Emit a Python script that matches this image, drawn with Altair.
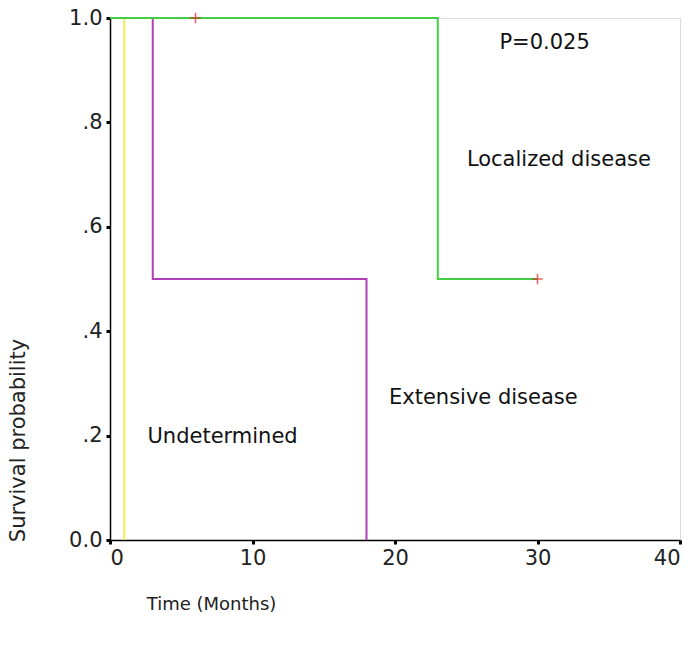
import altair as alt
import pandas as pd

# Kaplan-Meier step curves (time in months, survival probability)
groups = ["Undetermined", "Extensive disease", "Localized disease"]
und_t = [0, 1]
und_s = [1.0, 0.0]
ext_t = [0, 3, 18]
ext_s = [1.0, 0.5, 0.0]
loc_t = [0, 23, 30]
loc_s = [1.0, 0.5, 0.5]

# censored observations (Localized disease)
cens_t = [6, 30]
cens_s = [1.0, 0.5]

# annotation labels
label_text = ["P=0.025", "Localized disease", "Extensive disease", "Undetermined"]
label_t = [30.5, 31.5, 26.2, 7.9]
label_s = [0.952, 0.728, 0.272, 0.197]

colors = ["#eded55", "#b040b8", "#44cc44"]
FONT = "DejaVu Sans"

rows = []
for g, ts, ss in zip(groups, [und_t, ext_t, loc_t], [und_s, ext_s, loc_s]):
    for i, (t, s) in enumerate(zip(ts, ss)):
        rows.append({"group": g, "t": t, "s": s, "order": i})
curves = pd.DataFrame(rows)
cens = pd.DataFrame({"t": cens_t, "s": cens_s})
labels = pd.DataFrame({"text": label_text, "t": label_t, "s": label_s})

xscale = alt.Scale(domain=[0, 40], nice=False)
yscale = alt.Scale(domain=[0, 1], nice=False)

xaxis = alt.Axis(
    values=[0, 10, 20, 30, 40], title="Time (Months)", grid=False,
    tickSize=4, tickWidth=3, tickColor="black", domainColor="black", domainWidth=1.5,
    labelFontSize=21, labelColor="#222", labelPadding=3, labelFont=FONT,
    titleFontSize=18, titleFontWeight="normal", titleColor="#222", titleFont=FONT,
    titleX=101, titleY=55, titleAlign="center"
)

yaxis = alt.Axis(
    values=[0, 0.2, 0.4, 0.6, 0.8, 1.0], grid=False,
    labelExpr="datum.value == 0 ? '0.0' : datum.value == 1 ? '1.0' : replace(format(datum.value, '.1f'), '0.', '.')",
    title="Survival probability",
    tickSize=4, tickWidth=3, tickColor="black", domainColor="black", domainWidth=1.5,
    labelFontSize=21, labelColor="#222", labelPadding=4, labelFont=FONT,
    titleFontSize=21, titleFontWeight="normal", titleColor="#222", titleFont=FONT,
    titleX=-92, titleY=422, titleAlign="center", titleAngle=270, titleBaseline="middle"
)

lines = alt.Chart(curves).mark_line(interpolate="step-after", strokeWidth=2).encode(
    x=alt.X("t:Q", scale=xscale, axis=xaxis),
    y=alt.Y("s:Q", scale=yscale, axis=yaxis),
    color=alt.Color("group:N", scale=alt.Scale(domain=groups, range=colors), legend=None),
    order="order:Q",
    detail="group:N",
)

marks = alt.Chart(cens).mark_point(
    shape="M-1,0L1,0M0,-1L0,1", size=110, color="#dd2222", strokeWidth=1.5, filled=False
).encode(x=alt.X("t:Q", scale=xscale), y=alt.Y("s:Q", scale=yscale))

texts = alt.Chart(labels).mark_text(
    fontSize=21, font=FONT, color="#111", align="center", baseline="middle"
).encode(x=alt.X("t:Q", scale=xscale), y=alt.Y("s:Q", scale=yscale), text="text:N")

chart = alt.layer(lines, marks, texts).properties(
    width=570, height=522,
    autosize=alt.AutoSizeParams(type="none"),
    padding={"left": 110, "top": 18, "right": 15, "bottom": 106},
).configure_view(stroke="black", strokeWidth=1.5).configure(background="white")

chart.save("out.html", embed_options={"renderer": "svg", "actions": False})
